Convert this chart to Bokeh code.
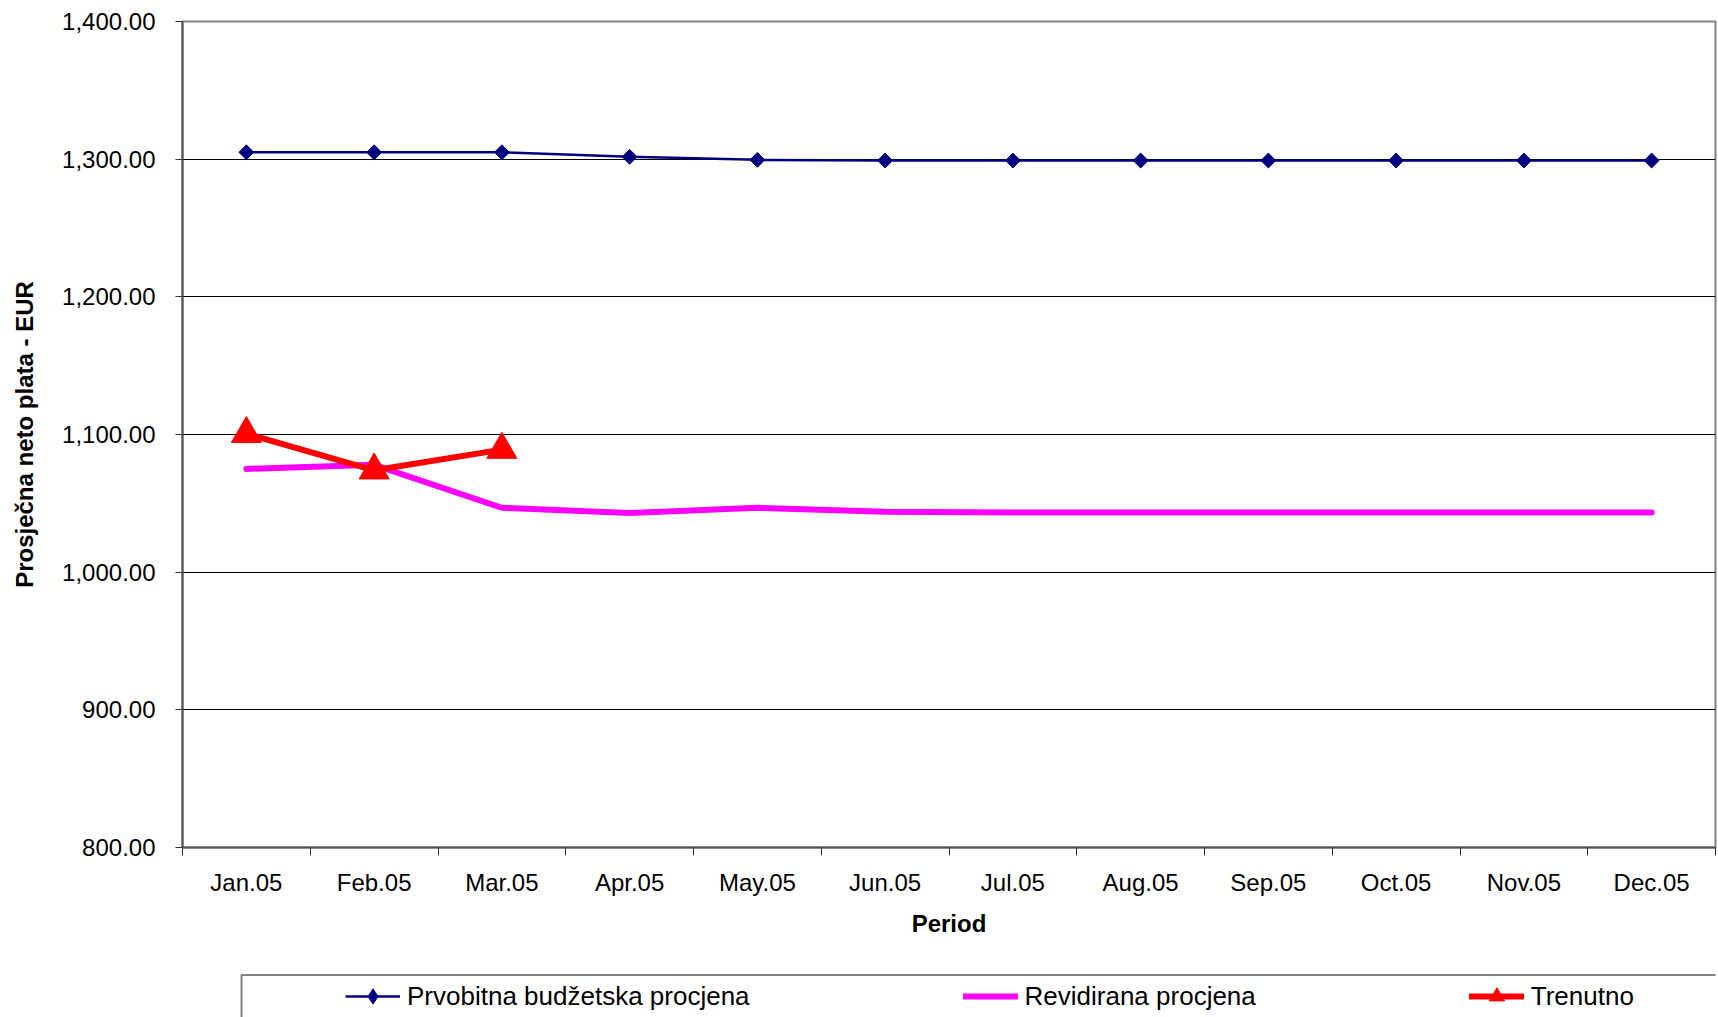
import math
from bokeh.plotting import figure
from bokeh.layouts import column
from bokeh.models import (Range1d, FixedTicker, NumeralTickFormatter, Legend,
                          LegendItem, BoxAnnotation)
from bokeh.embed import file_html
from bokeh.resources import INLINE

months = ["Jan.05", "Feb.05", "Mar.05", "Apr.05", "May.05", "Jun.05",
          "Jul.05", "Aug.05", "Sep.05", "Oct.05", "Nov.05", "Dec.05"]
prvobitna = [1305.0, 1305.0, 1305.0, 1301.7, 1299.5, 1299.0,
             1299.0, 1299.0, 1299.0, 1299.0, 1299.0, 1299.0]
revidirana = [1075.0, 1078.0, 1046.8, 1042.9, 1046.8, 1043.8,
              1043.3, 1043.3, 1043.3, 1043.3, 1043.3, 1043.3]
trenutno = [1100.5, 1074.0, 1089.0]
y_ticks = [800, 900, 1000, 1100, 1200, 1300, 1400]

series_names = ["Prvobitna budžetska procjena", "Revidirana procjena", "Trenutno"]

x_all = list(range(len(months)))
x_tren = x_all[:len(trenutno)]

FONT = "Liberation Sans"
BLUE = "#000080"
MAGENTA = "#FF00FF"
RED = "#FF0000"


def add_series(fig, legend_markers=False):
    rb_l = fig.line(x_all, prvobitna, line_color=BLUE, line_width=2.5)
    if legend_markers:
        rb_m = fig.scatter(x_all, prvobitna, marker="diamond", size=18,
                           fill_color=BLUE, line_color=BLUE)
    else:
        rb_m = fig.scatter(x_all, prvobitna, marker="square", size=10.5,
                           angle=math.pi / 4, fill_color=BLUE, line_color=BLUE)
    rm = fig.line(x_all, revidirana, line_color=MAGENTA, line_width=6,
                  line_cap="round", line_join="round")
    rr_l = fig.line(x_tren, trenutno, line_color=RED, line_width=6,
                    line_cap="round", line_join="round")
    rr_m = fig.scatter(x_tren, trenutno, marker="triangle", size=30,
                       fill_color=RED, line_color=RED)
    return rb_l, rb_m, rm, rr_l, rr_m


# ---------------- main chart ----------------
p = figure(width=1717, height=973, output_backend="svg", toolbar_location=None,
           x_range=Range1d(-0.5, len(months) - 0.5),
           y_range=Range1d(y_ticks[0], y_ticks[-1]),
           min_border_left=182, min_border_right=2, min_border_top=21,
           min_border_bottom=126)
p.background_fill_color = "white"
p.border_fill_color = "white"
p.outline_line_color = "#808080"
p.outline_line_width = 2

add_series(p)

p.xaxis.ticker = FixedTicker(ticks=x_all,
                             minor_ticks=[i - 0.5 for i in range(len(months) + 1)])
p.xaxis.major_label_overrides = {i: m for i, m in enumerate(months)}
p.xaxis.major_tick_out = 0
p.xaxis.major_tick_in = 0
p.xaxis.minor_tick_out = 8
p.xaxis.minor_tick_in = 0
p.xaxis.minor_tick_line_color = "#333333"
p.xaxis.major_label_standoff = 13
p.xaxis.axis_label = "Period"
p.xaxis.axis_label_standoff = 11

p.yaxis.ticker = FixedTicker(ticks=y_ticks, minor_ticks=[])
p.yaxis.formatter = NumeralTickFormatter(format="0,0.00")
p.yaxis.major_tick_out = 7
p.yaxis.major_tick_in = 0
p.yaxis.major_label_standoff = 20
p.yaxis.axis_label = "Prosječna neto plata - EUR"
p.yaxis.axis_label_standoff = 21

for ax in (p.xaxis[0], p.yaxis[0]):
    ax.axis_line_color = "#555555"
    ax.axis_line_width = 2
    ax.major_tick_line_color = "#333333"
    ax.major_label_text_font = FONT
    ax.major_label_text_font_size = "24px"
    ax.major_label_text_color = "black"
    ax.axis_label_text_font = FONT
    ax.axis_label_text_font_size = "24px"
    ax.axis_label_text_font_style = "bold"
    ax.axis_label_text_color = "black"

p.xgrid.visible = False
p.ygrid.ticker = FixedTicker(ticks=y_ticks[1:-1])
p.ygrid.grid_line_color = "#000000"
p.ygrid.grid_line_width = 1

# ---------------- legend strip (box below chart) ----------------
lg = figure(width=1717, height=44, output_backend="svg", toolbar_location=None,
            x_range=Range1d(0, 1), y_range=Range1d(0, 1),
            x_axis_location=None, y_axis_location=None,
            min_border_left=182, min_border_right=2, min_border_top=0,
            min_border_bottom=0)
lg.grid.visible = False
lg.background_fill_color = "white"
lg.border_fill_color = "white"
lg.outline_line_alpha = 0

rb_l, rb_m, rm, rr_l, rr_m = add_series(lg, legend_markers=True)  # data lies outside this strip's range

box = BoxAnnotation(left=59, right=2000, top=42.5, bottom=-100,
                    left_units="screen", right_units="screen",
                    top_units="screen", bottom_units="screen",
                    fill_alpha=0, line_color="#808080", line_alpha=1.0,
                    line_width=2)
lg.add_layout(box)

legend = Legend(items=[
    LegendItem(label=series_names[0], renderers=[rb_l, rb_m]),
    LegendItem(label=series_names[1], renderers=[rm]),
    LegendItem(label=series_names[2], renderers=[rr_l, rr_m]),
], orientation="horizontal", location=(163, 2),
    glyph_width=55, glyph_height=38, label_height=38, label_standoff=7,
    spacing=213, padding=0, margin=0, border_line_alpha=0,
    background_fill_alpha=0, label_text_font=FONT,
    label_text_font_size="26px", label_text_color="black")
lg.add_layout(legend)

layout = column(p, lg, spacing=0)
open("out.html", "w").write(file_html(layout, INLINE))
